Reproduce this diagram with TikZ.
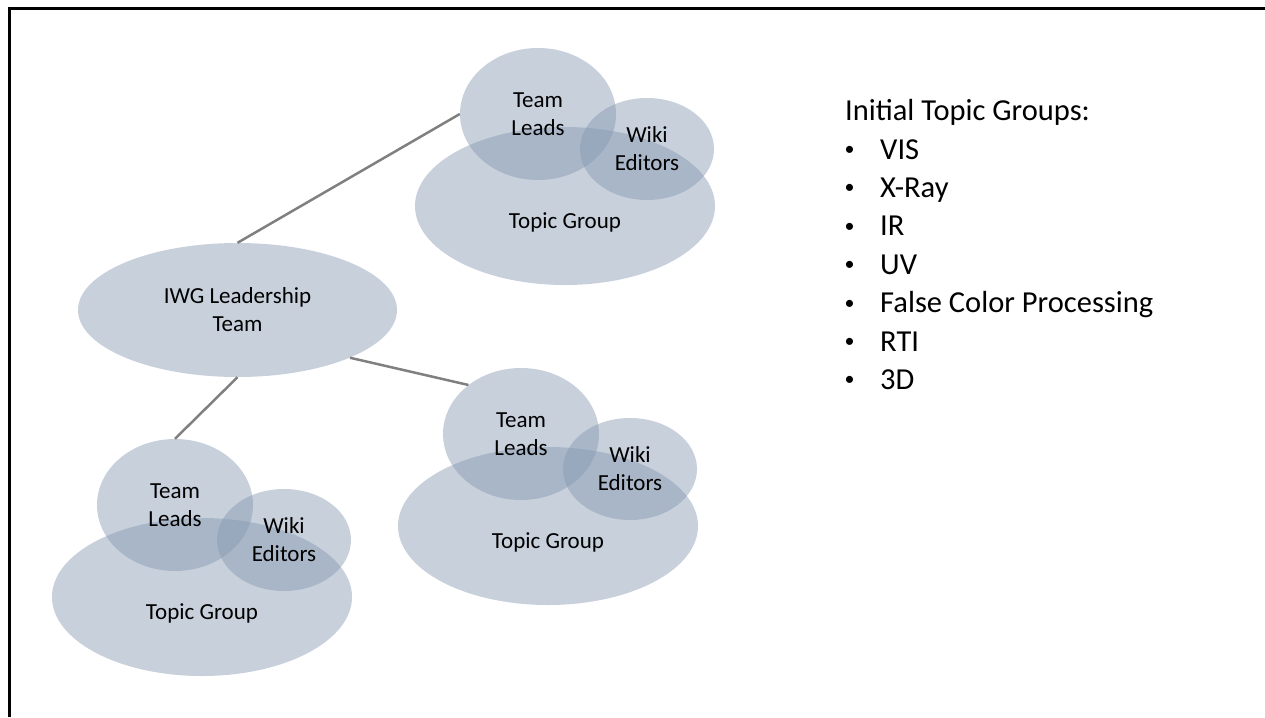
\documentclass[tikz,border=0pt]{standalone}
\usepackage{fontspec}
\setmainfont{Carlito}
\usetikzlibrary{shapes.geometric}

\definecolor{blobfill}{HTML}{8497B0}
\definecolor{linkgray}{HTML}{808080}

\tikzset{
    blob/.style={ellipse, fill=blobfill, fill opacity=0.45, text opacity=1, inner sep=0pt,
        font=\fontsize{23}{28}\selectfont, align=center},
    leads/.style={blob, minimum width=156pt, minimum height=132pt},
    wiki/.style={blob, minimum width=134pt, minimum height=102pt},
    topic/.style={blob, minimum width=300pt, minimum height=158pt},
    leadteam/.style={blob, minimum width=319pt, minimum height=134pt},
    blobtext/.style={font=\fontsize{23}{28}\selectfont, inner sep=0pt},
    link/.style={draw=linkgray, line width=2.5pt},
    listtext/.style={font=\fontsize{30.5}{38}\selectfont, inner sep=0pt},
    listdot/.style={font=\fontsize{20}{24}\selectfont, inner sep=0pt}
}

\begin{document}
\begin{tikzpicture}[x=1pt, y=-1pt]
    \useasboundingbox (0,0) rectangle (1265,717);
    \draw[line width=3pt] (9.5,717) |- (1265,8.5);

    % leadership team
    \node[leadteam] (lead) at (237.5,310) {IWG Leadership\\Team};

    % topic group clusters
    \foreach \c/\x/\y in {top/565/206, mid/548/526, low/202/597} {
        \node[topic] (\c-tg) at (\x,\y) {};
        \node[leads] (\c-tl) at (\x-27,\y-92) {Team\\Leads};
        \node[wiki] (\c-we) at (\x+82,\y-57) {Wiki\\Editors};
        \node[blobtext] (\c-tgtext) at (\x,\y+16) {Topic Group};
    }

    \draw[link] (lead.north) -- (top-tl.west);
    \draw[link] (lead.-23) -- (mid-tl.137);
    \draw[link] (lead.south) -- (low-tl.north);

    % list of groups
    \node[listtext, anchor=base west] (heading) at (845,120.7) {Initial Topic Groups:};
    \foreach \txt [count=\i] in {VIS, X-Ray, IR, UV, False Color Processing, RTI, 3D} {
        \node[listdot, anchor=base] (dot\i) at (849.5,{117+38.4*\i}) {\textbullet};
        \node[listtext, anchor=base west] (item\i) at (880,{120.7+38.4*\i}) {\txt};
    }
\end{tikzpicture}
\end{document}
